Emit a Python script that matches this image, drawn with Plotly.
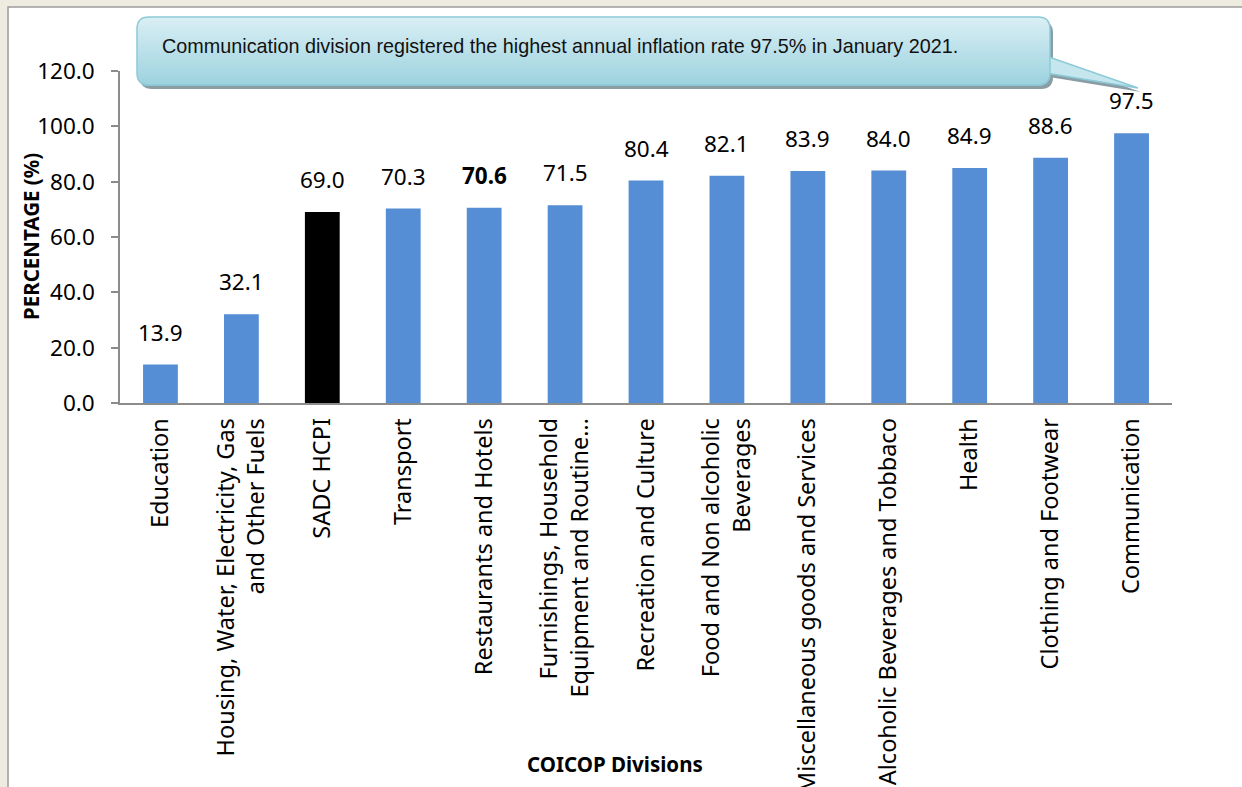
import math
import plotly.graph_objects as go

# ---- data ----
categories = [
    "Education",
    "Housing, Water, Electricity, Gas<br>and Other Fuels",
    "SADC HCPI",
    "Transport",
    "Restaurants and Hotels",
    "Furnishings, Household<br>Equipment and Routine…",
    "Recreation and Culture",
    "Food and Non alcoholic<br>Beverages",
    "Miscellaneous goods and Services",
    "Alcoholic Beverages and Tobbaco",
    "Health",
    "Clothing and Footwear",
    "Communication",
]
values = [13.9, 32.1, 69.0, 70.3, 70.6, 71.5, 80.4, 82.1, 83.9, 84.0, 84.9, 88.6, 97.5]
highlight_category = "SADC HCPI"
bold_label_category = "Restaurants and Hotels"
y_ticks = [0, 20, 40, 60, 80, 100, 120]
callout_text = "Communication division registered the highest annual inflation rate 97.5% in January 2021."
x_title = "COICOP Divisions"
y_title = "PERCENTAGE (%)"

# ---- styling / layout ----
W, H = 1242, 787
ML, MR, MT, MB = 120, 70, 71, 384
PW, PH = W - ML - MR, H - MT - MB

def X(px):
    return (px - ML) / PW

def Y(py):
    return (H - MB - py) / PH

BLUE = "#558ED5"
TICK_FONT = "Noto Sans, Open Sans, sans-serif"

xs = list(range(len(categories)))
colors = ["#000000" if c == highlight_category else BLUE for c in categories]

fig = go.Figure()
fig.add_trace(go.Bar(
    x=xs, y=values, width=0.43,
    marker=dict(color=colors, line=dict(width=0)),
    hoverinfo="skip", showlegend=False,
))

annotations = []
for xi, c, v in zip(xs, categories, values):
    label = f"{v:.1f}"
    if c == bold_label_category:
        label = f"<b>{label}</b>"
    annotations.append(dict(
        x=xi, y=v, xref="x", yref="y", text=label, showarrow=False,
        yanchor="bottom", yshift=15,
        font=dict(family=TICK_FONT, size=22.5, color="#000000"),
    ))

annotations.append(dict(
    x=X(31), y=0.5, xref="paper", yref="paper", text=f"<b>{y_title}</b>",
    textangle=-90, showarrow=False, xanchor="center", yanchor="middle",
    font=dict(family=TICK_FONT, size=20.5, color="#000000"),
))
annotations.append(dict(
    x=X(615), y=Y(764), xref="paper", yref="paper", text=f"<b>{x_title}</b>",
    showarrow=False, xanchor="center", yanchor="middle",
    font=dict(family=TICK_FONT, size=20.5, color="#000000"),
))
annotations.append(dict(
    x=X(160), y=Y(46), xref="paper", yref="paper", text=callout_text,
    showarrow=False, xanchor="left", yanchor="middle",
    font=dict(family="Liberation Sans, Arial, sans-serif", size=19.8, color="#111111"),
))

shapes = []
# outer frame
shapes.append(dict(
    type="rect", xref="paper", yref="paper",
    x0=X(8), x1=X(1260), y0=Y(800), y1=Y(7),
    fillcolor="#FFFFFF", line=dict(color="#9C9C9C", width=1.5), layer="below",
))

# callout geometry (pixels)
bx0, by0, bx1, by1, r = 137, 17, 1050, 85, 12
tip = (1138, 88)
p_top, p_bot = 56, 73

def rounded_path(x0, y0, x1, y1, rad, dx=0, dy=0):
    x0 += dx; x1 += dx; y0 += dy; y1 += dy
    pts = [
        f"M {X(x0 + rad)},{Y(y0)}",
        f"L {X(x1 - rad)},{Y(y0)}",
        f"Q {X(x1)},{Y(y0)} {X(x1)},{Y(y0 + rad)}",
        f"L {X(x1)},{Y(y1 - rad)}",
        f"Q {X(x1)},{Y(y1)} {X(x1 - rad)},{Y(y1)}",
        f"L {X(x0 + rad)},{Y(y1)}",
        f"Q {X(x0)},{Y(y1)} {X(x0)},{Y(y1 - rad)}",
        f"L {X(x0)},{Y(y0 + rad)}",
        f"Q {X(x0)},{Y(y0)} {X(x0 + rad)},{Y(y0)}",
        "Z",
    ]
    return " ".join(pts)

def pointer_path(dx=0, dy=0):
    return (f"M {X(bx1 - 4 + dx)},{Y(p_top + dy)} L {X(tip[0] + dx)},{Y(tip[1] + dy)} "
            f"L {X(bx1 - 4 + dx)},{Y(p_bot + dy)} Z")

SHADOW = "#8A9DA4"
shapes.append(dict(type="path", xref="paper", yref="paper", path=pointer_path(3, 4),
                   fillcolor=SHADOW, line=dict(width=0), layer="above"))
shapes.append(dict(type="path", xref="paper", yref="paper", path=rounded_path(bx0, by0, bx1, by1, r, 3, 4),
                   fillcolor=SHADOW, line=dict(width=0), layer="above"))
shapes.append(dict(type="path", xref="paper", yref="paper", path=pointer_path(),
                   fillcolor="#C6E6EE", line=dict(color="#8CCAD8", width=1.5), layer="above"))

top_c = (0xDA, 0xEF, 0xF4)
bot_c = (0x9C, 0xD2, 0xDF)
step = 2
yy = by0
while yy < by1:
    y_a, y_b = yy, min(yy + step, by1)
    ym = (y_a + y_b) / 2
    d = min(ym - by0, by1 - ym)
    inset = 0.0
    if d < r:
        inset = r - math.sqrt(max(r * r - (r - d) ** 2, 0))
    t = (ym - by0) / (by1 - by0)
    col = tuple(int(round(top_c[i] + (bot_c[i] - top_c[i]) * t)) for i in range(3))
    shapes.append(dict(
        type="rect", xref="paper", yref="paper",
        x0=X(bx0 + inset), x1=X(bx1 - inset), y0=Y(y_b + 0.5), y1=Y(y_a),
        fillcolor="rgb(%d,%d,%d)" % col, line=dict(width=0), layer="above",
    ))
    yy += step

shapes.append(dict(type="path", xref="paper", yref="paper", path=rounded_path(bx0, by0, bx1, by1, r),
                   fillcolor="rgba(0,0,0,0)", line=dict(color="#8CCAD8", width=1.5), layer="above"))

fig.update_layout(
    width=W, height=H,
    margin=dict(l=ML, r=MR, t=MT, b=MB, autoexpand=False),
    paper_bgcolor="#EEECE1",
    plot_bgcolor="rgba(0,0,0,0)",
    bargap=0.57,
    shapes=shapes,
    annotations=annotations,
    xaxis=dict(
        range=[-0.5, len(categories) - 0.5],
        tickmode="array", tickvals=xs, ticktext=categories,
        tickangle=-90, showgrid=False, zeroline=False,
        showline=True, linecolor="#8C8C8C", linewidth=1.5,
        ticks="outside", ticklen=4, tickcolor="rgba(0,0,0,0)",
        tickfont=dict(family=TICK_FONT, size=23.5, color="#000000"),
        fixedrange=True,
    ),
    yaxis=dict(
        range=[0, 120], tickmode="array", tickvals=y_ticks,
        ticktext=[f"{t:.1f}" for t in y_ticks],
        showgrid=False, zeroline=False,
        showline=True, linecolor="#8C8C8C", linewidth=1.5,
        ticks="outside", ticklen=7, tickcolor="#8C8C8C", tickwidth=1.5,
        ticklabelstandoff=12,
        tickfont=dict(family=TICK_FONT, size=22.5, color="#000000"),
        fixedrange=True,
    ),
)

fig.write_html(
    "out.html",
    config={"displayModeBar": False},
    post_script="document.body.style.margin='0';document.body.style.padding='0';",
)
